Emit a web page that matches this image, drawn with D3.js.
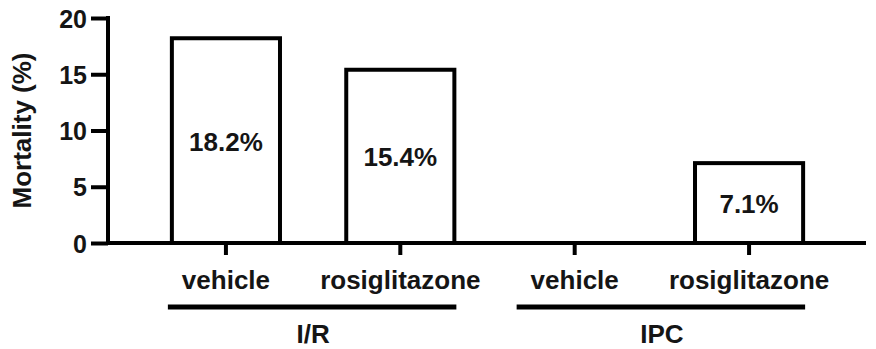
<!DOCTYPE html>
<html>
<head>
<meta charset="utf-8">
<script src="https://cdn.jsdelivr.net/npm/d3@7"></script>
<style>
  body { margin: 0; background: #fff; }
  svg text { font-family: "Liberation Sans", Arial, sans-serif; font-weight: bold; fill: #151515; }
</style>
</head>
<body>
<div id="chart"></div>
<script>
// data
const categories = ["I/R vehicle", "I/R rosiglitazone", "IPC vehicle", "IPC rosiglitazone"];
const catLabels = ["vehicle", "rosiglitazone", "vehicle", "rosiglitazone"];
const mortality = [18.2, 15.4, 0, 7.1];
const valueLabels = ["18.2%", "15.4%", "", "7.1%"];
const groups = ["I/R", "IPC"];
const groupMembers = [[0, 1], [2, 3]];
const yTicks = [0, 5, 10, 15, 20];

const width = 876, height = 349;
const margin = {top: 18, right: 10, bottom: 106, left: 108};

const svg = d3.select("#chart").append("svg")
    .attr("width", width)
    .attr("height", height);

// scales
const x = d3.scaleBand()
    .domain(categories)
    .range([137, 838])
    .paddingInner(0.38)
    .paddingOuter(0.2);

const y = d3.scaleLinear()
    .domain([0, 20])
    .range([height - margin.bottom, margin.top]);

// bars (white with black outline)
svg.selectAll(".bar")
    .data(categories)
    .enter()
    .append("rect")
    .attr("class", "bar")
    .attr("x", d => x(d))
    .attr("width", x.bandwidth())
    .attr("y", (d, i) => y(mortality[i]))
    .attr("height", (d, i) => y(0) - y(mortality[i]))
    .attr("fill", "#fff")
    .attr("stroke", (d, i) => mortality[i] > 0 ? "#000" : "none")
    .attr("stroke-width", 4);

// value labels in the middle of each bar
svg.selectAll(".vlabel")
    .data(categories)
    .enter()
    .append("text")
    .attr("class", "vlabel")
    .attr("x", d => x(d) + x.bandwidth() / 2)
    .attr("y", (d, i) => (y(mortality[i]) + y(0)) / 2 + 10)
    .attr("text-anchor", "middle")
    .style("font-size", "26px")
    .text((d, i) => valueLabels[i]);

// y axis
const yAxis = svg.append("g")
    .attr("transform", `translate(${margin.left},0)`)
    .call(d3.axisLeft(y).tickValues(yTicks).tickSize(17).tickPadding(4));
yAxis.select(".domain").attr("stroke", "#000").attr("stroke-width", 4)
    .attr("d", `M0,${y(0) + 2}V${y(20) - 2}`);
yAxis.selectAll(".tick line").attr("stroke", "#000").attr("stroke-width", 4);
yAxis.selectAll(".tick text").style("font-size", "25px").attr("dy", "0.36em");

// y title
svg.append("text")
    .attr("transform", `translate(31,${(y(0) + y(20)) / 2}) rotate(-90)`)
    .attr("text-anchor", "middle")
    .style("font-size", "26px")
    .text("Mortality (%)");

// x axis
const xAxis = svg.append("g")
    .attr("transform", `translate(0,${y(0)})`)
    .call(d3.axisBottom(x).tickSize(12).tickPadding(16).tickFormat((d, i) => catLabels[i]));
xAxis.select(".domain").attr("stroke", "#000").attr("stroke-width", 4)
    .attr("d", `M${margin.left - 2},0H${width - margin.right}`);
xAxis.selectAll(".tick line").attr("stroke", "#000").attr("stroke-width", 4);
xAxis.selectAll(".tick text").style("font-size", "26px");

// group brackets
const groupG = svg.selectAll(".group")
    .data(groups)
    .enter()
    .append("g")
    .attr("class", "group");

groupG.append("line")
    .attr("x1", (d, i) => x(categories[groupMembers[i][0]]) - 4)
    .attr("x2", (d, i) => x(categories[groupMembers[i][1]]) + x.bandwidth() + 2)
    .attr("y1", 307)
    .attr("y2", 307)
    .attr("stroke", "#000")
    .attr("stroke-width", 5);

groupG.append("text")
    .attr("x", (d, i) => (x(categories[groupMembers[i][0]]) + x(categories[groupMembers[i][1]]) + x.bandwidth()) / 2)
    .attr("y", 343)
    .attr("text-anchor", "middle")
    .style("font-size", "26px")
    .text(d => d);
</script>
</body>
</html>
